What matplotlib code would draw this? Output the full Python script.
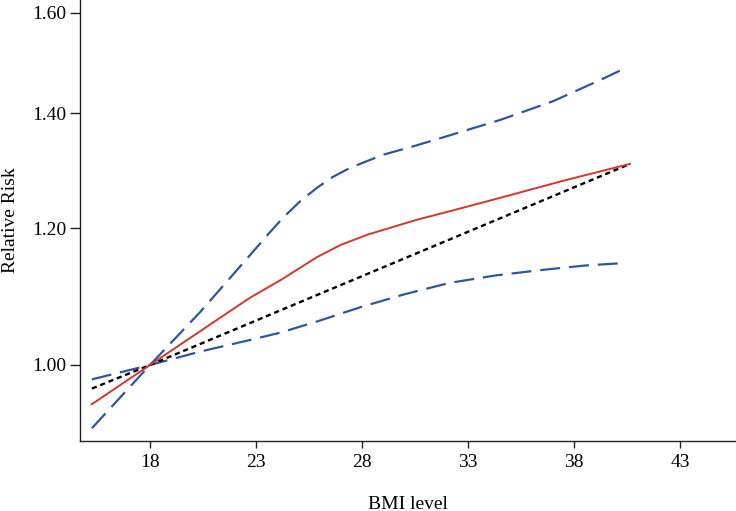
import matplotlib
matplotlib.use("Agg")
import matplotlib.pyplot as plt
from matplotlib.ticker import FixedLocator, NullLocator

# Data (BMI level vs relative risk)
bmi_est = [15.26, 18.0, 20.36, 22.72, 24.16, 25.88, 27.0, 28.25, 30.59, 32.15, 34.51, 37.5, 40.64]
rr_est = [0.949, 1.000, 1.046, 1.094, 1.120, 1.155, 1.174, 1.190, 1.214, 1.228, 1.250, 1.279, 1.308]

bmi_up = [15.26, 18.0, 20.36, 22.72, 23.5, 24.27, 25.07, 25.88, 26.6, 27.43, 28.99, 30.59, 32.15, 34.51, 37.0, 39.23, 40.45]
rr_up = [0.919, 1.000, 1.073, 1.158, 1.188, 1.217, 1.244, 1.267, 1.285, 1.301, 1.324, 1.341, 1.359, 1.387, 1.422, 1.463, 1.487]

bmi_lo = [15.26, 18.0, 20.36, 22.72, 24.13, 25.9, 27.9, 30.0, 32.15, 34.3, 36.4, 38.5, 40.45]
rr_lo = [0.981, 1.000, 1.018, 1.034, 1.044, 1.060, 1.080, 1.099, 1.116, 1.127, 1.135, 1.142, 1.146]

bmi_lin = [15.26, 18.0, 40.64]
rr_lin = [0.969, 1.000, 1.308]

xticks = [18, 23, 28, 33, 38, 43]
yticks = [1.00, 1.20, 1.40, 1.60]
ytick_labels = ["1.00", "1.20", "1.40", "1.60"]

plt.rcParams['font.family'] = ['Liberation Serif', 'DejaVu Serif']

fig = plt.figure(figsize=(7.36, 5.11), dpi=100)
ax = fig.add_axes([80/736, 70/511, 1 - 80/736, 441/511])

blue = '#2e56a0'
ax.plot(bmi_up, rr_up, color=blue, lw=1.6, dashes=(9, 4))
ax.plot(bmi_lo, rr_lo, color=blue, lw=1.6, dashes=(9, 4))
ax.plot(bmi_lin, rr_lin, color='black', lw=1.7, dashes=(2.2, 1.6))
ax.plot(bmi_est, rr_est, color='#d8352a', lw=1.4)

ax.set_yscale('log')
ax.set_xlim(14.70, 45.64)
ax.set_ylim(0.9035, 1.628)
ax.xaxis.set_major_locator(FixedLocator(xticks))
ax.yaxis.set_major_locator(FixedLocator(yticks))
ax.yaxis.set_minor_locator(NullLocator())
ax.set_yticklabels(ytick_labels)
ax.set_xticklabels([str(t) for t in xticks])

for s in ['top', 'right']:
    ax.spines[s].set_visible(False)
for s in ['left', 'bottom']:
    ax.spines[s].set_linewidth(1.0)
    ax.spines[s].set_color('#222222')

ax.tick_params(axis='y', length=7, width=1.0, labelsize=14, pad=3, colors='#222222', labelcolor='black')
ax.tick_params(axis='x', length=5, width=1.0, labelsize=14, pad=4, colors='#222222', labelcolor='black')

ax.set_xlabel('BMI level', fontsize=14, labelpad=18)
ax.set_ylabel('Relative Risk', fontsize=14, labelpad=9)

fig.savefig('out.png', dpi=100)
